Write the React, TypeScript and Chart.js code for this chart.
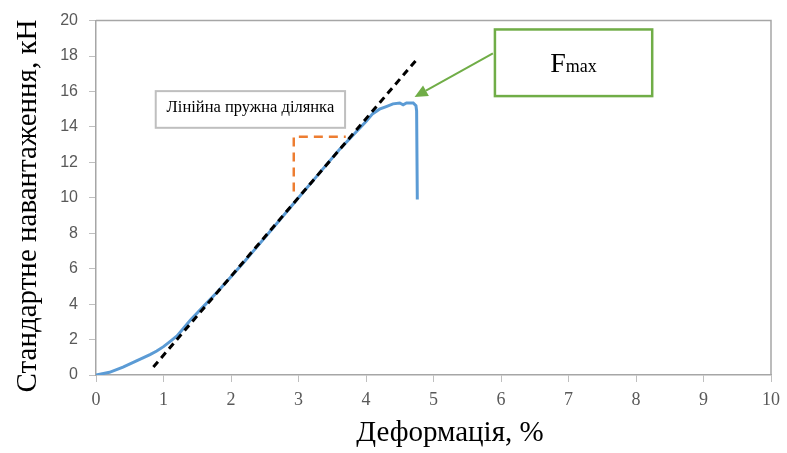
import React, { useEffect, useRef } from "react";
import { Chart, registerables } from "chart.js";

Chart.register(...registerables);

// ---- data ----
const strain = [0, 0.2, 0.4, 0.6, 0.8, 0.9, 1.0, 1.1, 1.2, 1.3, 1.4, 1.6, 1.8, 2.0, 2.2, 2.4, 2.6, 2.8, 3.0, 3.2, 3.4, 3.6, 3.8, 4.0, 4.1, 4.2, 4.3, 4.4, 4.5, 4.55, 4.6, 4.7, 4.74, 4.75, 4.76];
const load = [0, 0.15, 0.45, 0.8, 1.15, 1.35, 1.6, 1.9, 2.2, 2.65, 3.1, 3.9, 4.7, 5.55, 6.4, 7.3, 8.2, 9.1, 10.0, 10.9, 11.8, 12.7, 13.5, 14.3, 14.75, 15.0, 15.15, 15.3, 15.35, 15.25, 15.35, 15.35, 15.2, 14.9, 9.9];

const fitX = [0.85, 4.75];
const fitY = [0.45, 17.8];

const markX = [2.93, 2.93, 3.7];
const markY = [10.35, 13.45, 13.45];

const xTicks = [0, 1, 2, 3, 4, 5, 6, 7, 8, 9, 10];
const yTicks = [0, 2, 4, 6, 8, 10, 12, 14, 16, 18, 20];

const xTitle = "Деформація, %";
const yTitle = "Стандартне навантаження, кН";
const boxLabel = "Лінійна пружна ділянка";
const fmaxMain = "F";
const fmaxSub = "max";

const toPts = (xs: number[], ys: number[]) => xs.map((v, i) => ({ x: v, y: ys[i] }));

// annotation geometry in data units
const labelBoxData = { x0: 0.885, y0: 16.02, x1: 3.69, y1: 13.95 };
const fmaxBoxData = { x0: 5.91, y0: 19.5, x1: 8.24, y1: 15.74 };
const arrowData = { x0: 5.88, y0: 18.15, x1: 4.72, y1: 15.69 };

const annotPlugin = {
  id: "annot",
  afterDraw(chart: any) {
    const { ctx, chartArea: ca, scales } = chart;
    const x = scales.x;
    const y = scales.y;
    const px = (v: number) => x.getPixelForValue(v);
    const py = (v: number) => y.getPixelForValue(v);
    ctx.save();
    // frame top/right
    ctx.strokeStyle = "#a6a6a6";
    ctx.lineWidth = 1.5;
    ctx.beginPath();
    ctx.moveTo(ca.left, ca.top);
    ctx.lineTo(ca.right, ca.top);
    ctx.lineTo(ca.right, ca.bottom);
    ctx.stroke();

    // label box
    {
      const l = px(labelBoxData.x0), r = px(labelBoxData.x1), t = py(labelBoxData.y0), b = py(labelBoxData.y1);
      ctx.fillStyle = "#ffffff";
      ctx.fillRect(l, t, r - l, b - t);
      ctx.strokeStyle = "#bfbfbf";
      ctx.lineWidth = 2;
      ctx.strokeRect(l, t, r - l, b - t);
      ctx.fillStyle = "#000000";
      ctx.font = "16.5px 'Liberation Serif'";
      ctx.textAlign = "center";
      ctx.textBaseline = "middle";
      ctx.fillText(boxLabel, (l + r) / 2, (t + b) / 2 - 2);
    }

    // Fmax box
    {
      const l = px(fmaxBoxData.x0), r = px(fmaxBoxData.x1), t = py(fmaxBoxData.y0), b = py(fmaxBoxData.y1);
      ctx.fillStyle = "#ffffff";
      ctx.fillRect(l, t, r - l, b - t);
      ctx.strokeStyle = "#70ad47";
      ctx.lineWidth = 2.5;
      ctx.strokeRect(l, t, r - l, b - t);
      ctx.fillStyle = "#000000";
      ctx.textBaseline = "alphabetic";
      ctx.textAlign = "left";
      ctx.font = "28px 'Liberation Serif'";
      const w1 = ctx.measureText(fmaxMain).width;
      ctx.font = "18px 'Liberation Serif'";
      const w2 = ctx.measureText(fmaxSub).width;
      const sx = (l + r) / 2 - (w1 + w2) / 2;
      const base = (t + b) / 2 + 9;
      ctx.font = "28px 'Liberation Serif'";
      ctx.fillText(fmaxMain, sx, base);
      ctx.font = "18px 'Liberation Serif'";
      ctx.fillText(fmaxSub, sx + w1, base);
    }

    // arrow
    {
      const x0 = px(arrowData.x0), y0 = py(arrowData.y0), x1 = px(arrowData.x1), y1 = py(arrowData.y1);
      const ang = Math.atan2(y1 - y0, x1 - x0);
      const hl = 13, hw = 6;
      const bx = x1 - hl * Math.cos(ang), by = y1 - hl * Math.sin(ang);
      ctx.strokeStyle = "#70ad47";
      ctx.fillStyle = "#70ad47";
      ctx.lineWidth = 2;
      ctx.beginPath();
      ctx.moveTo(x0, y0);
      ctx.lineTo(bx, by);
      ctx.stroke();
      ctx.beginPath();
      ctx.moveTo(x1, y1);
      ctx.lineTo(bx + hw * Math.sin(ang), by - hw * Math.cos(ang));
      ctx.lineTo(bx - hw * Math.sin(ang), by + hw * Math.cos(ang));
      ctx.closePath();
      ctx.fill();
    }

    // axis titles
    ctx.fillStyle = "#000000";
    ctx.font = "29px 'Liberation Serif'";
    ctx.textAlign = "center";
    ctx.textBaseline = "middle";
    ctx.fillText(xTitle, 450, 433);
    ctx.save();
    ctx.translate(28, 206);
    ctx.rotate(-Math.PI / 2);
    ctx.fillText(yTitle, 0, 0);
    ctx.restore();

    ctx.restore();
  },
};

export default function App() {
  const ref = useRef<HTMLCanvasElement | null>(null);
  useEffect(() => {
    if (!ref.current) return;
    const chart = new Chart(ref.current, {
      type: "scatter",
      data: {
        datasets: [
          {
            label: "fit",
            data: toPts(fitX, fitY),
            showLine: true,
            borderColor: "#000000",
            borderWidth: 3,
            borderDash: [7, 5],
            pointRadius: 0,
            order: 0,
          },
          {
            label: "curve",
            data: toPts(strain, load),
            showLine: true,
            borderColor: "#5b9bd5",
            borderWidth: 3,
            pointRadius: 0,
            tension: 0,
            order: 1,
          },
          {
            label: "mark",
            data: toPts(markX, markY),
            showLine: true,
            borderColor: "#ed7d31",
            borderWidth: 2.5,
            borderDash: [9, 6],
            pointRadius: 0,
            order: 2,
          },
        ],
      } as any,
      options: {
        animation: false,
        responsive: true,
        maintainAspectRatio: false,
        layout: { padding: { top: 18, right: 13, left: 0, bottom: 0 } },
        plugins: {
          legend: { display: false },
          tooltip: { enabled: false },
        },
        scales: {
          x: {
            type: "linear",
            min: 0,
            max: 10,
            afterFit: (s: any) => {
              s.height = 78;
            },
            afterBuildTicks: (s: any) => {
              s.ticks = xTicks.map((v) => ({ value: v }));
            },
            ticks: {
              color: "#595959",
              font: { family: "'Liberation Serif'", size: 18 },
              padding: 7,
              maxRotation: 0,
              autoSkip: false,
            },
            grid: { drawOnChartArea: false, drawTicks: true, tickLength: 7, color: "#bfbfbf" },
            border: { color: "#a6a6a6", width: 1.5 },
          },
          y: {
            type: "linear",
            min: 0,
            max: 20,
            afterFit: (s: any) => {
              s.width = 96;
            },
            afterBuildTicks: (s: any) => {
              s.ticks = yTicks.map((v) => ({ value: v }));
            },
            ticks: {
              color: "#595959",
              font: { family: "'Liberation Sans'", size: 16 },
              padding: 11,
              autoSkip: false,
            },
            grid: { drawOnChartArea: false, drawTicks: true, tickLength: 7, color: "#bfbfbf" },
            border: { color: "#a6a6a6", width: 1.5 },
          },
        },
      } as any,
      plugins: [annotPlugin as any],
    });
    return () => chart.destroy();
  }, []);
  return (
    <div style={{ position: "absolute", left: 0, top: 0, width: 787, height: 453, background: "#fff" }}>
      <canvas ref={ref} />
    </div>
  );
}
